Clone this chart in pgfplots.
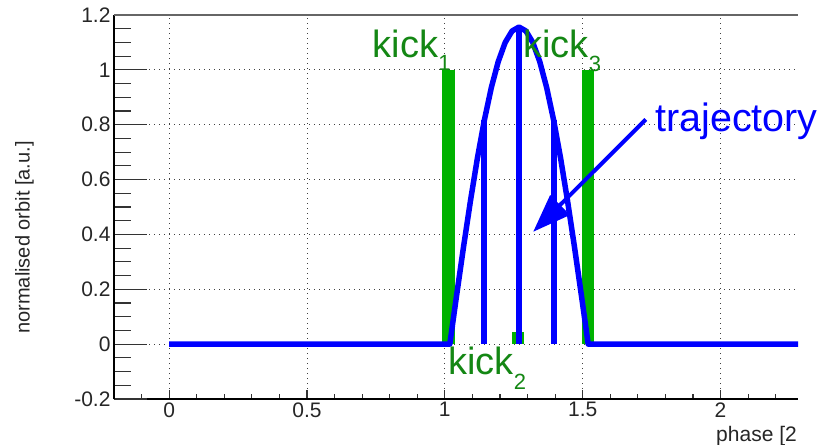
\documentclass[border=0pt]{standalone}
\usepackage{pgfplots}
\pgfplotsset{compat=1.18}
\usepackage{fontspec}
\setmainfont{Liberation Sans}
\usetikzlibrary{arrows.meta}
\definecolor{kbar}{RGB}{0,178,0}
\definecolor{ktext}{RGB}{20,135,20}
\definecolor{kblue}{RGB}{0,0,255}
\begin{document}
\begin{tikzpicture}[x=1pt,y=1pt]
\begin{axis}[
  at={(114pt,46pt)}, anchor=south west, scale only axis,
  width=684pt, height=384pt,
  xmin=-0.2, xmax=2.281, ymin=-0.2, ymax=1.2,
  axis x line*=bottom, axis y line*=left,
  axis line style={line width=1.3pt, black},
  xtick={0,0.5,1,1.5,2}, xticklabels={0,0.5,1,1.5,2},
  ytick={-0.2,0,0.2,0.4,0.6,0.8,1,1.2},
  yticklabels={-0.2,0,0.2,0.4,0.6,0.8,1,1.2},
  minor xtick={-0.1,0.1,0.2,0.3,0.4,0.6,0.7,0.8,0.9,1.1,1.2,1.3,1.4,1.6,1.7,1.8,1.9,2.1,2.2},
  tick align=inside,
  major tick length=9pt, minor tick length=5pt,
  tick style={line width=1.1pt, black!80},
  tick label style={font=\fontsize{21}{25}\selectfont, text=black!85},
  xmajorgrids, ymajorgrids,
  grid style={dash pattern=on 1pt off 4pt, line width=0.9pt, black!75},
]
% kicks (green bars)
\addplot[fill=kbar, draw=none] coordinates {(0.988,0) (0.988,1) (1.036,1) (1.036,0)} -- cycle;
\addplot[fill=kbar, draw=none] coordinates {(1.244,0) (1.244,0.045) (1.288,0.045) (1.288,0)} -- cycle;
\addplot[fill=kbar, draw=none] coordinates {(1.498,0) (1.498,1) (1.541,1) (1.541,0)} -- cycle;
% trajectory
\addplot[kblue, line width=5.5pt, line join=round] coordinates {
 (0,0) (1.018,0) (1.0431,0.1808) (1.0682,0.3572) (1.0933,0.5248) (1.1184,0.6795)
 (1.1435,0.8174) (1.1686,0.9352) (1.1937,1.0300) (1.2188,1.0995) (1.2439,1.1418)
 (1.269,1.156) (1.2941,1.1418) (1.3192,1.0995) (1.3443,1.0300) (1.3694,0.9352)
 (1.3945,0.8174) (1.4196,0.6795) (1.4447,0.5248) (1.4698,0.3572) (1.4949,0.1808)
 (1.520,0) (2.35,0)};
\addplot[kblue, line width=6pt] coordinates {(1.1435,0) (1.1435,0.8174)};
\addplot[kblue, line width=6pt] coordinates {(1.269,0) (1.269,1.156)};
\addplot[kblue, line width=6pt] coordinates {(1.3945,0) (1.3945,0.8174)};
\draw[kblue, line width=4pt, -{Triangle[length=38pt,width=27pt]}] (axis cs:1.729,0.819) -- (axis cs:1.3203,0.4094);
\end{axis}
\begin{axis}[
  at={(114pt,46pt)}, anchor=south west, scale only axis,
  width=684pt, height=384pt,
  xmin=-0.2, xmax=2.281, ymin=-0.2, ymax=1.2,
  hide x axis, axis y line*=left,
  axis line style={line width=1.3pt, black},
  ytick={-0.2,0,0.2,0.4,0.6,0.8,1,1.2}, yticklabels={},
  minor ytick={-0.15,-0.1,-0.05,0.05,0.1,0.15,0.25,0.3,0.35,0.45,0.5,0.55,0.65,0.7,0.75,0.85,0.9,0.95,1.05,1.1,1.15},
  tick align=inside,
  major tick length=33pt, minor tick length=17pt,
  tick style={line width=1.1pt, black!80},
]
\addplot[draw=none] coordinates {(0,0)};
\end{axis}
% top frame line
\draw[black!60, line width=2pt] (114,430) -- (798,430);
% texts
\node[anchor=base west, inner sep=0, text=ktext, font=\fontsize{38}{40}\selectfont] at (372.7,387.8) {kick\raisebox{-13.3pt}{\fontsize{22}{24}\selectfont 1}};
\node[anchor=base west, inner sep=0, text=ktext, font=\fontsize{38}{40}\selectfont] at (523.3,387.0) {kick\raisebox{-13.3pt}{\fontsize{22}{24}\selectfont 3}};
\node[anchor=base west, inner sep=0, text=ktext, font=\fontsize{38}{40}\selectfont] at (448.3,70) {kick\raisebox{-15pt}{\fontsize{22}{24}\selectfont 2}};
\node[anchor=base west, inner sep=0, text=kblue, font=\fontsize{39.5}{42}\selectfont] at (655,313.3) {trajectory};
\node[anchor=base east, inner sep=0, text=black!85, font=\fontsize{21}{24}\selectfont] at (797,4) {phase [2};
\node[anchor=base, inner sep=0, rotate=90, text=black!85, font=\fontsize{20}{24}\selectfont] at (29.6,207.5) {normalised orbit [a.u.]};
\pgfresetboundingbox
\path[use as bounding box] (0,0) rectangle (823,445);
\end{tikzpicture}
\end{document}
